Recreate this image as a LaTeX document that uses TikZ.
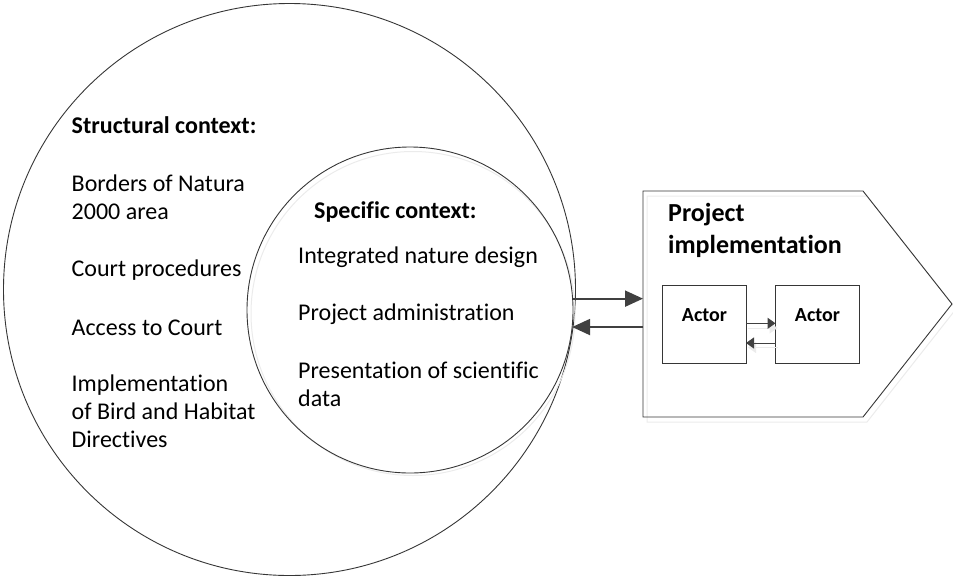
\documentclass[tikz,border=0pt]{standalone}
\usepackage{fontspec}
\setmainfont{Carlito}[Ligatures={NoCommon,NoContextual}]
\usetikzlibrary{arrows.meta}
\definecolor{linegray}{HTML}{363636}
\definecolor{arrowgray}{HTML}{404040}
\definecolor{shadowgray}{HTML}{EBEBEB}
\begin{document}
\begin{tikzpicture}[x=1pt,y=-1pt,
  ring/.style={circle, draw=linegray, line width=0.9pt, inner sep=0pt, outer sep=0pt},
  ringshadow/.style={circle, draw=shadowgray, line width=1pt, inner sep=0pt, outer sep=0pt},
  body/.style={font={\fontsize{24}{28}\selectfont}, anchor=base west, inner sep=0pt},
  heading/.style={font={\fontsize{24}{28}\selectfont\bfseries}, anchor=base west, inner sep=0pt},
  projtitle/.style={font={\fontsize{26}{32}\selectfont\bfseries}, anchor=base west, inner sep=0pt},
  actorbox/.style={draw=linegray, line width=0.8pt, minimum width=84pt, minimum height=78pt, inner sep=0pt, outer sep=0pt},
  actortext/.style={font={\fontsize{20}{24}\selectfont\bfseries}, anchor=base, inner sep=0pt},
  bigarrow/.style={draw=arrowgray, line width=2pt, -{Triangle[length=18pt,width=16pt]}},
  smallarrow/.style={draw=arrowgray, line width=1pt, -{Triangle[length=8pt,width=11pt]}},
  smallshadow/.style={draw=shadowgray, line width=1pt, -{Triangle[length=8pt,width=11pt]}}
]
\useasboundingbox (0,0) rectangle (953,576);

% structural context (outer ring)
\node[ring, minimum size=572pt] (outer) at (289.5,289.5) {};

% specific context (inner ring with soft shadow)
\node[ringshadow, minimum size=324pt] (innershadow) at (413,313.5) {};
\node[ring, minimum size=326pt] (inner) at (410,310) {};

% texts of the structural context
\node[heading] (structhead) at (71.5,133) {Structural context:};
\node[body] (borders) at (71.5,191.7) {\vtop{\hbox{Borders of Natura}\hbox{2000 area}}};
\node[body] (court) at (71.5,276.7) {Court procedures};
\node[body] (access) at (71.5,335) {Access to Court};
\node[body] (implem) at (71.5,391.7) {\vtop{\hbox{Implementation}\hbox{of Bird and Habitat}\hbox{Directives}}};

% texts of the specific context
\node[heading] (spechead) at (314,218) {Specific context:};
\node[body] (design) at (298,263) {Integrated nature design};
\node[body] (admin) at (298,320) {Project administration};
\node[body] (science) at (298,378) {\vtop{\hbox{Presentation of scientific}\hbox{data}}};

% project implementation block (pointed box with shadow)
\draw[shadowgray, line width=1pt, shift={(4,5)}]
  (643,191) -- (863,191) -- (952,304) -- (863,417) -- (643,417) -- cycle;
\draw[linegray, line width=0.9pt]
  (643,191) -- (863,191) -- (952,304) -- (863,417) -- (643,417) -- cycle;
\coordinate (projleft) at (643,304);
\node[projtitle] (projhead) at (668,221.5) {\vtop{\hbox{Project}\hbox{implementation}}};

% actors
\node[actorbox] (actA) at (704,324) {};
\node[actorbox] (actB) at (817.5,324) {};
\node[actortext] (labA) at (704.5,321.5) {Actor};
\node[actortext] (labB) at (817.5,321.5) {Actor};

% exchange between the actors
\draw[smallshadow] ([shift={(2,4)}]actA.east) -- ([shift={(2,4)}]actB.west);
\draw[smallshadow] ([shift={(2,4)},yshift=-19.5pt]actB.west) -- ([shift={(2,4)},yshift=-19.5pt]actA.east);
\draw[smallarrow] ([yshift=0.7pt]actA.east) -- ([yshift=0.7pt]actB.west);
\draw[smallarrow] ([yshift=-19pt]actB.west) -- ([yshift=-19pt]actA.east);

% exchange between context and project
\draw[bigarrow] (inner.4.93) -- (inner.4.93 -| projleft);
\draw[bigarrow] (inner.-6.34 -| projleft) -- (inner.-6.34);
\end{tikzpicture}
\end{document}
